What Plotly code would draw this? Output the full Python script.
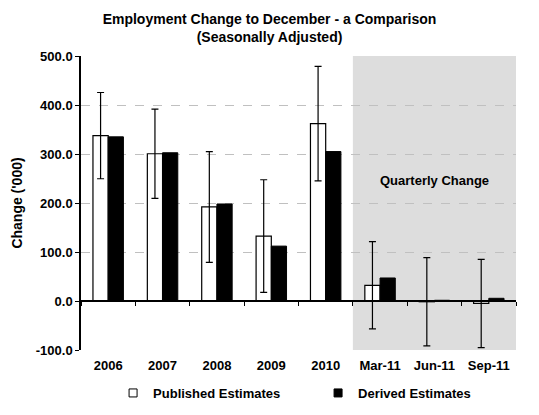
import plotly.graph_objects as go

# data ('000)
categories = ["2006", "2007", "2008", "2009", "2010", "Mar-11", "Jun-11", "Sep-11"]
published = [337.5, 300.5, 192.0, 132.5, 362.0, 32.0, -1.5, -5.0]
derived = [335.0, 302.5, 198.0, 112.0, 305.0, 47.0, 1.5, 5.5]
published_err = [88.0, 91.0, 113.0, 115.0, 117.0, 89.0, 90.0, 90.0]
y_ticks = [-100, 0, 100, 200, 300, 400, 500]
y_tick_labels = ["-100.0", "0.0", "100.0", "200.0", "300.0", "400.0", "500.0"]

FONT = "Liberation Sans, Arial, sans-serif"

fig = go.Figure()

fig.add_trace(go.Bar(
    x=categories,
    y=published,
    name="Published Estimates",
    showlegend=False,
    marker=dict(color="white", line=dict(color="black", width=1.2)),
    error_y=dict(type="data", array=published_err, color="black", thickness=1.2, width=3.5),
))
fig.add_trace(go.Bar(
    x=categories,
    y=derived,
    name="Derived Estimates",
    showlegend=False,
    marker=dict(color="black", line=dict(color="black", width=1)),
))

# legend entries with small square keys
fig.add_trace(go.Scatter(x=[None], y=[None], mode="markers", name="Published Estimates",
                         marker=dict(symbol="square", size=8, color="white", line=dict(color="black", width=1))))
fig.add_trace(go.Scatter(x=[None], y=[None], mode="markers", name="Derived Estimates",
                         marker=dict(symbol="square", size=8, color="black", line=dict(color="black", width=1))))

# shaded quarterly section
fig.add_shape(
    type="rect", xref="x", yref="paper",
    x0=4.5, x1=7.5, y0=0, y1=1,
    fillcolor="#dddddd", line=dict(width=0), layer="below",
)

fig.add_annotation(
    x=6, y=246, xref="x", yref="y",
    text="Quarterly Change", showarrow=False,
    font=dict(family=FONT, size=13, color="black", weight="bold"),
)

fig.update_layout(
    width=539,
    height=415,
    margin=dict(l=81, r=23, t=56, b=65, autoexpand=False),
    paper_bgcolor="white",
    plot_bgcolor="white",
    font=dict(family=FONT, color="black"),
    title=dict(
        text="<b>Employment Change to December - a Comparison<br>(Seasonally Adjusted)</b>",
        x=0.5, xanchor="center", yref="container", y=1 - 24 / 415, yanchor="middle",
        font=dict(family=FONT, size=14, color="black"),
    ),
    barmode="group",
    bargap=0.44,
    bargroupgap=0,
    legend=dict(
        orientation="h", x=0.545, xanchor="center", y=-43 / 294, yanchor="middle",
        font=dict(family=FONT, size=13, color="black", weight="bold"),
        itemwidth=30, entrywidth=160,
    ),
    xaxis=dict(
        type="category",
        range=[-0.5, 7.5],
        showline=False,
        ticks="",
        automargin=False,
        tickfont=dict(family=FONT, size=13, color="black", weight="bold"),
        ticklabelstandoff=6,
    ),
    xaxis2=dict(
        matches="x",
        overlaying="x",
        anchor="free",
        position=100 / 600,
        type="category",
        showline=True,
        linecolor="black",
        linewidth=1.5,
        ticks="outside",
        tickson="boundaries",
        ticklen=4,
        tickcolor="black",
        showticklabels=False,
        showgrid=False,
        automargin=False,
    ),
    yaxis=dict(
        range=[-100, 500],
        tickvals=y_ticks,
        ticktext=y_tick_labels,
        showline=True,
        linecolor="black",
        linewidth=1.5,
        ticks="outside",
        ticklen=4,
        tickcolor="black",
        showgrid=True,
        gridcolor="#c0c0c0",
        griddash="dash",
        zeroline=False,
        automargin=False,
        tickfont=dict(family=FONT, size=13, color="black", weight="bold"),
        title=dict(text="Change ('000)", font=dict(family=FONT, size=14, color="black", weight="bold"),
                   standoff=10),
    ),
)

# invisible trace so the zero-line axis renders
fig.add_trace(go.Scatter(x=categories, y=[0] * len(categories), xaxis="x2", mode="none",
                         showlegend=False, hoverinfo="skip"))

# drop the browser's default body margin so the figure sits at the page corner
fig.write_html("out.html", config={"displayModeBar": False},
               post_script="document.body.style.margin='0';")
